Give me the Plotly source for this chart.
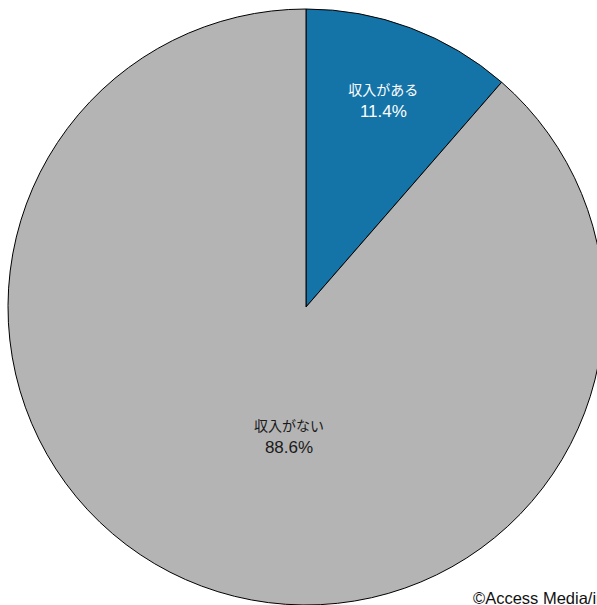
import plotly.graph_objects as go

labels = ["収入がある", "収入がない"]
values = [11.4, 88.6]
colors = ["#1474a8", "#b4b4b4"]
text_colors = ["#ffffff", "#1a1a1a"]
credit = "©Access Media/intage"

total = sum(values)
label_tpl = ("<span style='font-size:14px;font-family:\"Noto Sans CJK JP\"'>{}</span>"
             "<br>{:.1f}%")

# small slice label drawn by the pie itself; big slice label placed as an annotation
pie_texts = [label_tpl.format(labels[0], values[0] / total * 100), ""]

fig = go.Figure(go.Pie(
    labels=labels,
    values=values,
    sort=False,
    direction="clockwise",
    rotation=0,
    marker=dict(colors=colors, line=dict(color="#000000", width=1)),
    text=pie_texts,
    textinfo="text",
    textposition="inside",
    insidetextorientation="horizontal",
    insidetextfont=dict(color=text_colors, size=17, family="Liberation Sans"),
    hoverinfo="skip",
    domain=dict(x=[0, 1], y=[0, 1]),
))

fig.add_annotation(
    text=label_tpl.format(labels[1], values[1] / total * 100),
    xref="paper", yref="paper", x=0.4715, y=0.2836,
    xanchor="center", yanchor="middle", showarrow=False,
    font=dict(size=17, color=text_colors[1], family="Liberation Sans"),
)

fig.add_annotation(
    text=credit,
    xref="paper", yref="paper", x=0.777, y=0.0117, xanchor="left", yanchor="middle",
    showarrow=False, font=dict(size=16.5, color="#111111", family="Liberation Sans"),
)

fig.update_layout(
    width=604, height=605,
    margin=dict(l=8, r=0, t=9, b=0, autoexpand=False),
    showlegend=False,
    paper_bgcolor="#ffffff",
    plot_bgcolor="#ffffff",
)

fig.write_html(
    "out.html",
    config={"displayModeBar": False},
    post_script=("document.documentElement.style.overflow='hidden';"
                 "document.body.style.overflow='hidden';"
                 "document.body.style.margin='0';"),
)
